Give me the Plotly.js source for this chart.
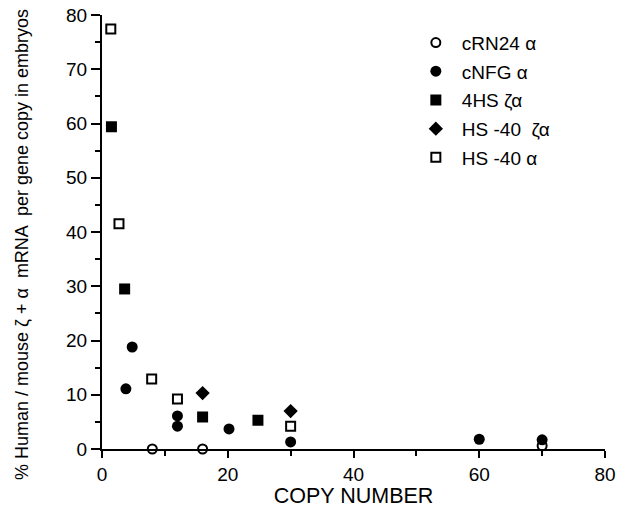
<!DOCTYPE html>
<html><head><meta charset="utf-8">
<script src="https://cdn.plot.ly/plotly-3.0.1.min.js"></script>
<style>html,body{margin:0;padding:0;background:#fff}</style>
</head><body><div id="chart" style="width:628px;height:508px"></div>
<script>
const seriesNames = ["cRN24 \u03b1", "cNFG \u03b1", "4HS \u03b6\u03b1", "HS -40  \u03b6\u03b1", "HS -40 \u03b1"];
const cRN24_x = [8, 16, 70];
const cRN24_y = [0, 0, 0.6];
const cNFG_x = [3.8, 4.8, 12, 12, 20.2, 30, 60, 70];
const cNFG_y = [11.1, 18.8, 6.1, 4.2, 3.7, 1.3, 1.8, 1.7];
const hs4_x = [1.5, 3.6, 16, 24.8];
const hs4_y = [59.4, 29.5, 5.9, 5.3];
const hs40za_x = [16, 30];
const hs40za_y = [10.3, 7.0];
const hs40a_x = [1.4, 2.7, 7.9, 12, 30];
const hs40a_y = [77.4, 41.5, 12.9, 9.2, 4.2];
const xTicks = [0, 20, 40, 60, 80];
const yTicks = [0, 10, 20, 30, 40, 50, 60, 70, 80];
const xTitle = 'COPY NUMBER';
const yTitle = '% Human / mouse \u03b6 + \u03b1  mRNA  per gene copy in embryos';

const mk = (sym, size, filled) => ({symbol: sym, size: size, color: filled ? '#000' : '#fff', line: {color: '#000', width: filled ? 0 : 2}});
const traces = [
  {x: cRN24_x, y: cRN24_y, name: seriesNames[0], marker: mk('circle', 9, false)},
  {x: cNFG_x, y: cNFG_y, name: seriesNames[1], marker: mk('circle', 11, true)},
  {x: hs4_x, y: hs4_y, name: seriesNames[2], marker: mk('square', 11, true)},
  {x: hs40za_x, y: hs40za_y, name: seriesNames[3], marker: mk('diamond', 11, true)},
  {x: hs40a_x, y: hs40a_y, name: seriesNames[4], marker: mk('square', 9, false)}
].map((t, i) => Object.assign(t, {type: 'scatter', mode: 'markers', cliponaxis: false, legendgroup: 'g' + i}));

const font = {family: 'Liberation Sans, Arial, sans-serif', color: '#000'};
const layout = {
  width: 628, height: 508,
  margin: {l: 102, r: 23, t: 15, b: 59},
  paper_bgcolor: '#fff', plot_bgcolor: '#fff',
  font: Object.assign({size: 16}, font),
  showlegend: true,
  legend: {x: 0.612, y: 0.98, xanchor: 'left', yanchor: 'top', font: Object.assign({size: 19}, font),
           tracegroupgap: 1, itemwidth: 42, bgcolor: 'rgba(0,0,0,0)'},
  xaxis: {range: [0, 80], tickvals: xTicks, ticks: 'outside', ticklen: 7, tickwidth: 2, tickcolor: '#000',
          showline: true, linewidth: 2, linecolor: '#000', showgrid: false, zeroline: false,
          minor: {dtick: 10, ticks: 'outside', ticklen: 5, tickwidth: 2, tickcolor: '#000'},
          tickfont: Object.assign({size: 19}, font),
          title: {text: xTitle, font: Object.assign({size: 21.5}, font), standoff: 8}},
  yaxis: {range: [0, 80], tickvals: yTicks, ticks: 'outside', ticklen: 9, tickwidth: 2, tickcolor: '#000',
          showline: true, linewidth: 2, linecolor: '#000', showgrid: false, zeroline: false,
          minor: {dtick: 5, ticks: 'outside', ticklen: 5, tickwidth: 2, tickcolor: '#000'},
          tickfont: Object.assign({size: 19}, font)},
  annotations: [{text: yTitle, textangle: -90, xref: 'paper', yref: 'paper', x: -0.159, y: 0.47,
                 xanchor: 'center', yanchor: 'middle', showarrow: false, font: Object.assign({size: 18}, font)}]
};
Plotly.newPlot('chart', traces, layout, {staticPlot: true, displayModeBar: false});
</script></body></html>
